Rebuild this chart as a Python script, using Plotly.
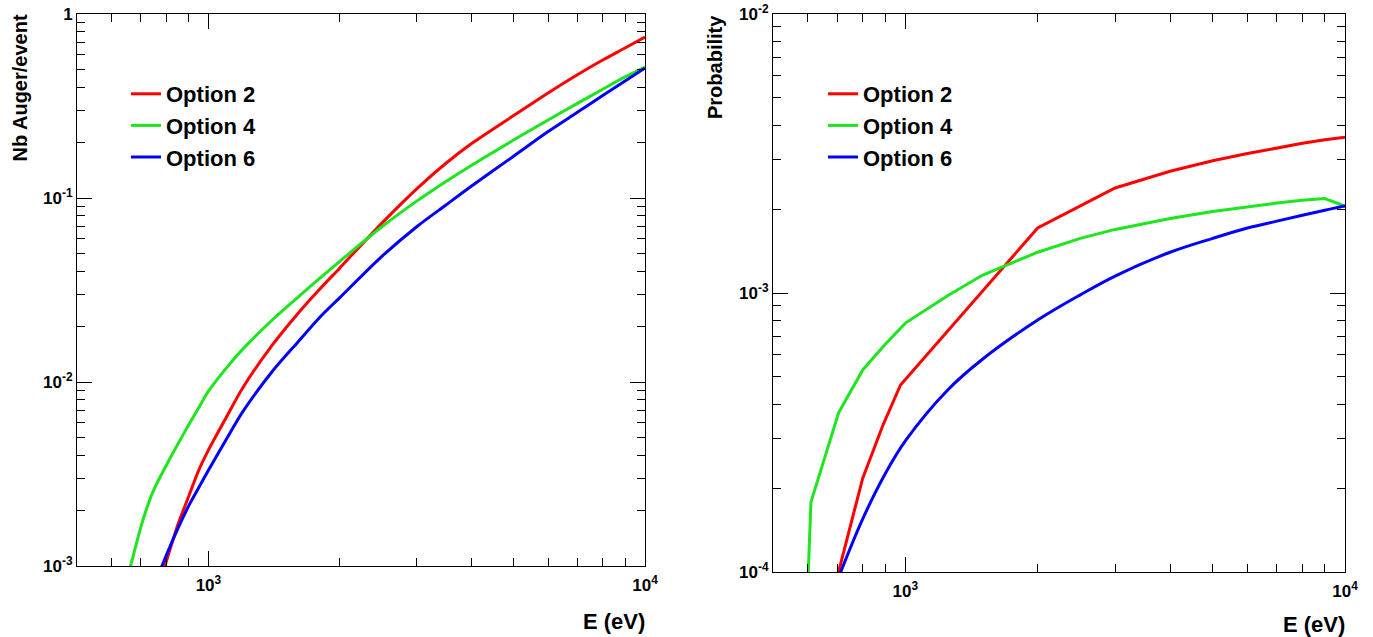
import plotly.graph_objects as go

# ---- Left panel: number of Auger electrons per event ----
E_opt2_nb = [780, 800, 850, 900, 950, 1000, 1100, 1200, 1400, 1600, 1800, 2000,
             2500, 3000, 3500, 4000, 5000, 6000, 7000, 8000, 9000, 10000]
nb_opt2 = [8.71e-4, 1.052e-3, 1.660e-3, 2.371e-3, 3.311e-3, 4.266e-3, 6.457e-3,
           9.333e-3, 0.01585, 0.02344, 0.03199, 0.04169, 0.07328, 0.1122, 0.1545,
           0.1972, 0.2805, 0.3724, 0.4677, 0.5623, 0.6531, 0.7499]

E_opt4_nb = [650, 675, 700, 725, 750, 800, 850, 900, 950, 1000, 1100, 1200, 1400,
             1600, 1800, 2000, 2500, 3000, 3500, 4000, 5000, 6000, 7000, 8000,
             9000, 10000]
nb_opt4 = [8.32e-4, 1.175e-3, 1.622e-3, 2.113e-3, 2.600e-3, 3.508e-3, 4.571e-3,
           5.821e-3, 7.244e-3, 8.913e-3, 0.01194, 0.01514, 0.02173, 0.02877,
           0.03664, 0.04529, 0.06998, 0.09616, 0.1230, 0.1503, 0.2065, 0.2655,
           0.3266, 0.3899, 0.4550, 0.515]

E_opt6_nb = [770, 800, 850, 900, 950, 1000, 1100, 1200, 1400, 1600, 1800, 2000,
             2500, 3000, 3500, 4000, 5000, 6000, 7000, 8000, 9000, 10000]
nb_opt6 = [9.12e-4, 1.135e-3, 1.585e-3, 2.109e-3, 2.661e-3, 3.311e-3, 4.898e-3,
           6.918e-3, 0.01140, 0.01641, 0.02249, 0.02877, 0.04831, 0.06982,
           0.09162, 0.1159, 0.1687, 0.2296, 0.2924, 0.3606, 0.4325, 0.5093]

# ---- Right panel: probability ----
E_opt2_p = [700, 800, 890, 975, 2000, 3000, 4000, 5000, 6000, 7000, 8000, 9000, 10000]
p_opt2 = [9.6e-5, 2.17e-4, 3.37e-4, 4.68e-4, 1.71e-3, 2.38e-3, 2.73e-3, 2.98e-3,
          3.16e-3, 3.31e-3, 3.44e-3, 3.54e-3, 3.62e-3]

E_opt4_p = [600, 610, 705, 800, 900, 1000, 1250, 1500, 2000, 2500, 3000, 4000,
            5000, 6000, 7000, 8000, 9000, 10000]
p_opt4 = [9.0e-5, 1.78e-4, 3.72e-4, 5.3e-4, 6.55e-4, 7.8e-4, 9.8e-4, 1.16e-3,
          1.40e-3, 1.57e-3, 1.69e-3, 1.85e-3, 1.96e-3, 2.04e-3, 2.10e-3,
          2.15e-3, 2.18e-3, 2.05e-3]

E_opt6_p = [700, 800, 900, 1000, 1250, 1500, 2000, 2500, 3000, 4000, 5000, 6000,
            7000, 8000, 9000, 10000]
p_opt6 = [9.3e-5, 1.55e-4, 2.25e-4, 2.95e-4, 4.5e-4, 5.8e-4, 8.0e-4, 9.85e-4,
          1.15e-3, 1.40e-3, 1.57e-3, 1.71e-3, 1.81e-3, 1.90e-3, 1.98e-3, 2.05e-3]

series_names = ["Option 2", "Option 4", "Option 6"]
series_colors = ["#ff0000", "#1ee61e", "#0000ff"]

x_major = [1e3, 1e4]
x_major_text = ["10<sup>3</sup>", "10<sup>4</sup>"]
y_major_left = [1e-3, 1e-2, 1e-1, 1]
y_major_left_text = ["10<sup>-3</sup>", "10<sup>-2</sup>", "10<sup>-1</sup>", "1"]
y_major_right = [1e-4, 1e-3, 1e-2]
y_major_right_text = ["10<sup>-4</sup>", "10<sup>-3</sup>", "10<sup>-2</sup>"]

W, H = 1373, 637
FONT = "Liberation Sans, Arial, Helvetica, sans-serif"


def minor_ticks(lo_exp, hi_exp):
    return [m * 10 ** k for k in range(lo_exp, hi_exp) for m in range(2, 10)]


fig = go.Figure()

left = [(E_opt2_nb, nb_opt2), (E_opt4_nb, nb_opt4), (E_opt6_nb, nb_opt6)]
right = [(E_opt2_p, p_opt2), (E_opt4_p, p_opt4), (E_opt6_p, p_opt6)]
# the right-panel Option 2 / Option 4 curves are piecewise, Option 6 is smooth
right_shapes = ["linear", "linear", "spline"]

for (xs, ys), name, col in zip(left, series_names, series_colors):
    fig.add_trace(go.Scatter(x=xs, y=ys, mode="lines", name=name,
                             line=dict(color=col, width=3, shape="spline", smoothing=0.8),
                             xaxis="x", yaxis="y", legend="legend"))
for (xs, ys), name, col, shp in zip(right, series_names, series_colors, right_shapes):
    fig.add_trace(go.Scatter(x=xs, y=ys, mode="lines", name=name,
                             line=dict(color=col, width=3, shape=shp),
                             xaxis="x2", yaxis="y2", legend="legend2"))


def px_x(p):
    return p / W


def px_y(p):
    return 1 - p / H


common_axis = dict(
    type="log", showline=True, linecolor="black", linewidth=1, mirror="allticks",
    ticks="inside", ticklen=15, tickcolor="black", tickwidth=1,
    showgrid=False, zeroline=False, automargin=False,
    tickfont=dict(family=FONT, size=17, color="black", weight="bold"),
)


def minor(vals):
    return dict(tickmode="array", tickvals=vals, ticks="inside",
                ticklen=8, tickcolor="black", showgrid=False)


xdom_l = [px_x(77), px_x(645)]
xdom_r = [px_x(773), px_x(1345)]
ydom_l = [px_y(566), px_y(14)]
ydom_r = [px_y(572), px_y(14)]

legend_font = dict(family=FONT, size=22, color="black", weight="bold")

fig.update_layout(
    width=W, height=H, autosize=False,
    margin=dict(l=0, r=0, t=0, b=0, pad=0),
    paper_bgcolor="white", plot_bgcolor="white",
    xaxis=dict(common_axis, domain=xdom_l, anchor="y", range=[2.699, 4],
               tickmode="array", tickvals=x_major, ticktext=x_major_text,
               ticklabelstandoff=4, minor=minor(minor_ticks(2, 4))),
    yaxis=dict(common_axis, domain=ydom_l, anchor="x", range=[-3, 0],
               tickmode="array", tickvals=y_major_left, ticktext=y_major_left_text,
               minor=minor(minor_ticks(-3, 0))),
    xaxis2=dict(common_axis, domain=xdom_r, anchor="y2", range=[2.699, 4],
                tickmode="array", tickvals=x_major, ticktext=x_major_text,
                ticklabelstandoff=4, minor=minor(minor_ticks(2, 4))),
    yaxis2=dict(common_axis, domain=ydom_r, anchor="x2", range=[-4, -2],
                tickmode="array", tickvals=y_major_right, ticktext=y_major_right_text,
                minor=minor(minor_ticks(-4, -2))),
    legend=dict(x=px_x(126), y=px_y(73), xanchor="left", yanchor="top",
                bgcolor="rgba(0,0,0,0)", borderwidth=0, tracegroupgap=0,
                font=legend_font),
    legend2=dict(x=px_x(823), y=px_y(73), xanchor="left", yanchor="top",
                 bgcolor="rgba(0,0,0,0)", borderwidth=0, tracegroupgap=0,
                 font=legend_font),
    showlegend=True,
)

title_font = dict(family=FONT, size=22, color="black", weight="bold")
ytitle_font = dict(family=FONT, size=20, color="black", weight="bold")
annotations = [
    dict(text="E (eV)", x=px_x(647), y=px_y(621), xanchor="right", yanchor="middle",
         font=title_font),
    dict(text="E (eV)", x=px_x(1347), y=px_y(624), xanchor="right", yanchor="middle",
         font=title_font),
    dict(text="Nb Auger/event", x=px_x(6), y=px_y(13), xanchor="left", yanchor="top",
         textangle=-90, font=ytitle_font),
    dict(text="Probability", x=px_x(702), y=px_y(13), xanchor="left", yanchor="top",
         textangle=-90, font=ytitle_font),
]
for a in annotations:
    fig.add_annotation(xref="paper", yref="paper", showarrow=False, **a)

fig.write_html("out.html")
